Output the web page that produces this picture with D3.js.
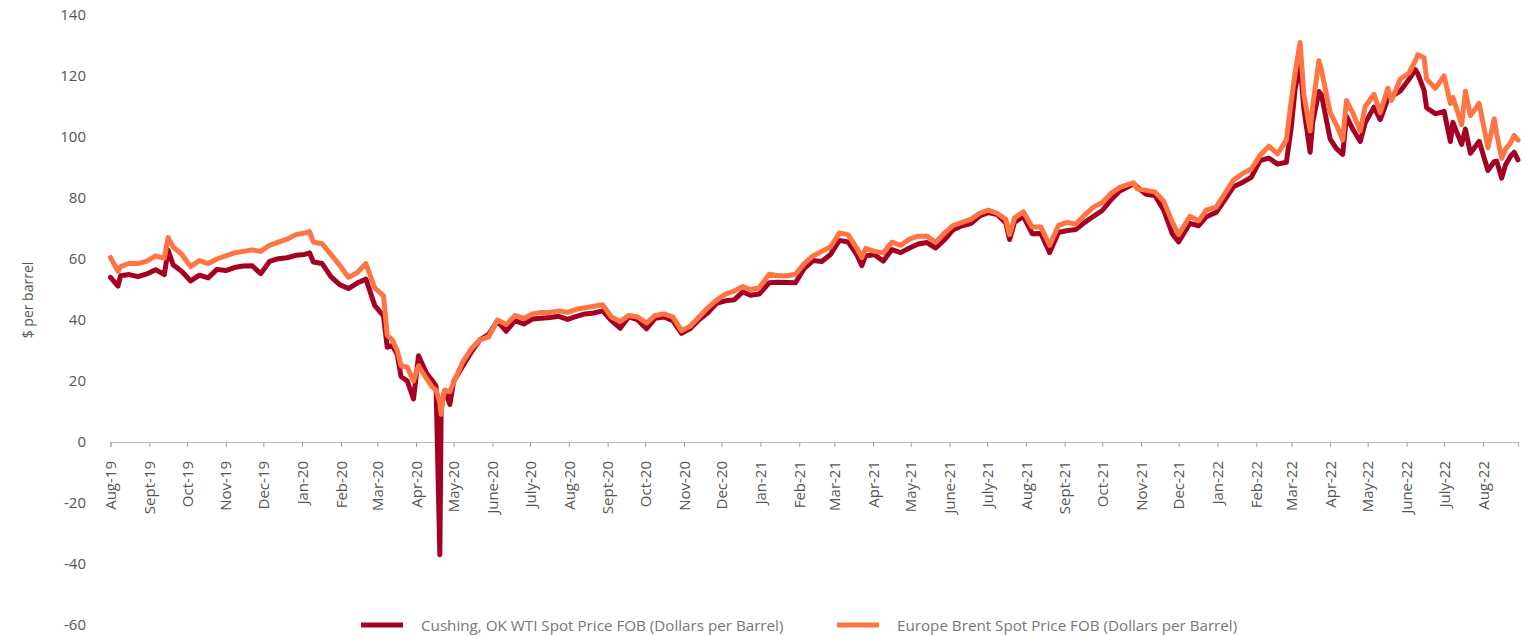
<!DOCTYPE html>
<html>
<head>
<meta charset="utf-8">
<script src="https://cdn.jsdelivr.net/npm/d3@7"></script>
<style>
  html, body { margin: 0; padding: 0; background: #fff; }
  svg { display: block; font-family: "Open Sans", sans-serif; }
</style>
</head>
<body>
<svg id="chart" width="1527" height="635"></svg>
<script>
// ---------- DATA ----------
const dates = [
"2019-08-01","2019-08-07","2019-08-09","2019-08-16","2019-08-23","2019-08-30",
"2019-09-06","2019-09-13","2019-09-16","2019-09-20","2019-09-27",
"2019-10-04","2019-10-11","2019-10-18","2019-10-25",
"2019-11-01","2019-11-08","2019-11-15","2019-11-22","2019-11-29",
"2019-12-06","2019-12-13","2019-12-20","2019-12-27",
"2020-01-03","2020-01-07","2020-01-10","2020-01-17","2020-01-24","2020-01-31",
"2020-02-07","2020-02-14","2020-02-21","2020-02-28",
"2020-03-06","2020-03-09","2020-03-13","2020-03-17","2020-03-20","2020-03-25","2020-03-30",
"2020-04-03","2020-04-09","2020-04-14","2020-04-17","2020-04-20","2020-04-21","2020-04-22","2020-04-24","2020-04-28",
"2020-05-01","2020-05-08","2020-05-15","2020-05-22","2020-05-29",
"2020-06-05","2020-06-12","2020-06-19","2020-06-26",
"2020-07-03","2020-07-10","2020-07-17","2020-07-24","2020-07-31",
"2020-08-07","2020-08-14","2020-08-21","2020-08-28",
"2020-09-04","2020-09-11","2020-09-18","2020-09-25",
"2020-10-02","2020-10-09","2020-10-16","2020-10-23","2020-10-30",
"2020-11-06","2020-11-13","2020-11-20","2020-11-27",
"2020-12-04","2020-12-11","2020-12-18","2020-12-24","2020-12-31",
"2021-01-08","2021-01-15","2021-01-22","2021-01-29",
"2021-02-05","2021-02-12","2021-02-19","2021-02-26",
"2021-03-05","2021-03-12","2021-03-19","2021-03-23","2021-03-26",
"2021-04-02","2021-04-09","2021-04-16","2021-04-23","2021-04-30",
"2021-05-07","2021-05-14","2021-05-21","2021-05-28",
"2021-06-04","2021-06-11","2021-06-18","2021-06-25",
"2021-07-02","2021-07-09","2021-07-16","2021-07-19","2021-07-23","2021-07-30",
"2021-08-06","2021-08-13","2021-08-20","2021-08-27",
"2021-09-03","2021-09-10","2021-09-17","2021-09-24",
"2021-10-01","2021-10-08","2021-10-15","2021-10-22","2021-10-26","2021-10-29",
"2021-11-05","2021-11-12","2021-11-19","2021-11-26",
"2021-12-01","2021-12-10","2021-12-17","2021-12-23","2021-12-31",
"2022-01-07","2022-01-14","2022-01-21","2022-01-28",
"2022-02-04","2022-02-11","2022-02-18","2022-02-25",
"2022-03-01","2022-03-04","2022-03-08","2022-03-11","2022-03-16","2022-03-18","2022-03-23","2022-03-25",
"2022-04-01","2022-04-06","2022-04-11","2022-04-14","2022-04-19","2022-04-25","2022-04-29",
"2022-05-06","2022-05-11","2022-05-17","2022-05-20","2022-05-27",
"2022-06-03","2022-06-08","2022-06-10","2022-06-15","2022-06-17","2022-06-24",
"2022-07-01","2022-07-06","2022-07-08","2022-07-15","2022-07-18","2022-07-22","2022-07-29",
"2022-08-05","2022-08-10","2022-08-12","2022-08-16","2022-08-19","2022-08-23","2022-08-26","2022-08-29"
];

const wti = [
54.0,51.1,54.5,54.9,54.2,55.1,
56.5,54.9,62.9,58.1,55.9,
52.8,54.7,53.8,56.6,
56.2,57.2,57.7,57.8,55.2,
59.2,60.1,60.4,61.2,
61.5,62.0,59.0,58.5,54.2,51.6,
50.3,52.1,53.4,44.8,
41.3,31.1,31.7,28.7,21.5,20.0,14.1,
28.3,22.8,20.1,18.3,-37.0,8.9,13.8,16.9,12.3,
19.8,24.7,29.4,33.5,35.3,
39.6,36.3,39.8,38.7,
40.3,40.6,40.8,41.2,40.2,
41.2,42.0,42.3,43.0,
39.8,37.3,41.1,40.0,
37.1,40.6,41.0,39.8,35.6,
37.2,40.1,42.4,45.5,
46.3,46.6,49.2,48.1,48.5,
52.2,52.4,52.3,52.2,
56.9,59.5,59.2,61.5,
66.1,65.6,61.4,57.8,61.0,
61.5,59.3,63.1,62.1,63.6,
64.9,65.4,63.6,66.3,
69.6,70.9,71.6,74.1,
75.2,74.6,71.8,66.4,72.1,74.0,
68.3,68.4,62.1,68.7,
69.3,69.7,72.0,74.0,
75.9,79.4,82.3,83.8,84.7,83.5,
81.2,80.8,76.1,68.2,
65.6,71.7,70.9,73.8,75.3,
79.5,83.8,85.1,86.8,
92.3,93.1,91.1,91.7,
103.4,115.7,123.6,109.3,95.0,104.7,114.9,113.9,
99.3,96.2,94.3,106.9,102.6,98.5,104.7,
109.8,105.7,112.4,113.2,115.1,
118.9,122.1,120.7,115.3,109.6,107.6,
108.4,98.5,104.8,97.6,102.6,94.7,98.6,
89.0,91.9,92.1,86.5,90.8,93.7,95.0,92.5
];

const brent = [
60.5,56.0,57.5,58.6,58.5,59.3,
61.0,60.3,67.0,64.0,61.5,
57.5,59.5,58.5,60.0,
61.0,62.0,62.5,63.0,62.5,
64.5,65.5,66.5,68.0,
68.5,69.0,65.5,65.0,61.5,58.0,
54.0,55.5,58.5,50.5,
48.0,35.0,33.5,30.0,25.0,24.5,20.0,
25.0,21.0,18.0,17.0,13.0,9.1,13.0,17.0,16.5,
19.5,26.0,30.5,33.5,34.5,
40.0,38.5,41.5,40.5,
42.0,42.5,42.5,43.0,42.5,
43.5,44.0,44.5,45.0,
41.0,39.5,41.5,41.0,
39.0,41.5,42.0,41.0,36.5,
38.0,41.0,44.0,46.5,
48.5,49.5,51.0,50.0,50.5,
55.0,54.5,54.5,55.0,
58.5,61.0,62.5,64.0,
68.5,68.0,63.5,60.5,63.5,
62.5,62.0,65.5,64.5,66.5,
67.5,67.5,65.5,68.5,
71.0,72.0,73.0,75.0,
76.0,75.0,73.0,68.0,73.5,75.5,
70.5,70.5,64.5,71.0,
72.0,71.5,74.5,77.0,
78.5,81.5,83.5,84.5,85.0,83.0,
82.5,82.0,79.0,72.0,
68.0,74.0,72.5,76.0,77.0,
81.5,86.0,88.0,89.5,
94.0,97.0,94.5,99.0,
112.0,121.0,131.0,114.0,102.0,110.0,125.0,122.0,
108.0,104.0,99.0,112.0,108.0,102.0,110.0,
114.0,108.0,116.0,112.0,119.0,
121.0,125.0,127.0,126.0,119.0,116.0,
120.0,111.0,113.0,104.0,115.0,107.0,111.0,
96.5,106.0,101.0,93.0,96.0,98.0,100.5,99.0
];

const yTicks = [-60,-40,-20,0,20,40,60,80,100,120,140];
const monthNames = ["Jan","Feb","Mar","Apr","May","June","July","Aug","Sept","Oct","Nov","Dec"];
const seriesNames = ["Cushing, OK WTI Spot Price FOB (Dollars per Barrel)",
                     "Europe Brent Spot Price FOB (Dollars per Barrel)"];
const seriesColors = ["#a50021", "#ff7443"];
const yTitle = "$ per barrel";
const xStart = "2019-08-01", xEnd = "2022-08-29";

// ---------- CHART ----------
const parse = d3.timeParse("%Y-%m-%d");
const svg = d3.select("#chart");

const x = d3.scaleTime().domain([parse(xStart), parse(xEnd)]).range([110.5, 1518]);
const y = d3.scaleLinear().domain([-60, 140]).range([625, 15]);

const textColor = "#555";

// Y axis labels (no line)
const yAxis = d3.axisLeft(y).tickValues(yTicks).tickSize(0).tickPadding(0)
  .tickFormat(d => String(d));
const gy = svg.append("g").attr("transform", "translate(86,0)").call(yAxis);
gy.select(".domain").remove();
gy.selectAll("text").attr("font-size", 15).attr("fill", textColor)
  .attr("font-family", "'Open Sans', sans-serif");

// Y title
svg.append("text")
  .attr("transform", "translate(27,300) rotate(-90)")
  .attr("text-anchor", "middle")
  .attr("dominant-baseline", "central")
  .attr("font-size", 14)
  .attr("fill", textColor)
  .text(yTitle);

// X axis
const months = d3.timeMonth.range(parse(xStart), d3.timeDay.offset(parse(xEnd), 1));
const xAxis = d3.axisBottom(x).tickValues(months).tickSize(5)
  .tickFormat(d => monthNames[d.getMonth()] + "-" + d3.timeFormat("%y")(d));
const gx = svg.append("g").attr("transform", `translate(0,${y(0)})`).call(xAxis);
gx.select(".domain").attr("stroke", "#bdbdbd").attr("stroke-width", 1.2);
gx.selectAll(".tick line").attr("stroke", "#9e9e9e");
gx.selectAll(".tick text")
  .attr("font-size", 15).attr("fill", textColor)
  .attr("font-family", "'Open Sans', sans-serif")
  .attr("text-anchor", "end")
  .attr("dy", "0.35em")
  .attr("x", 0).attr("y", 0)
  .attr("transform", "translate(0,19) rotate(-90)");

// Lines
const parsedDates = dates.map(parse);
const line = d3.line()
  .x((d, i) => x(parsedDates[i]))
  .y(d => y(d));

[wti, brent].forEach((vals, k) => {
  svg.append("path")
    .datum(vals)
    .attr("fill", "none")
    .attr("stroke", seriesColors[k])
    .attr("stroke-width", 5)
    .attr("stroke-linejoin", "round")
    .attr("stroke-linecap", "round")
    .attr("d", line);
});

// Legend
const legendX = [361, 837];
seriesNames.forEach((name, k) => {
  const g = svg.append("g").attr("transform", `translate(${legendX[k]},625)`);
  g.append("line").attr("x1", 0).attr("x2", 42).attr("y1", 0).attr("y2", 0)
    .attr("stroke", seriesColors[k]).attr("stroke-width", 5);
  g.append("text").attr("x", 60).attr("y", 0)
    .attr("dominant-baseline", "central")
    .attr("font-size", 15.2).attr("fill", "#777")
    .text(name);
});
</script>
</body>
</html>
